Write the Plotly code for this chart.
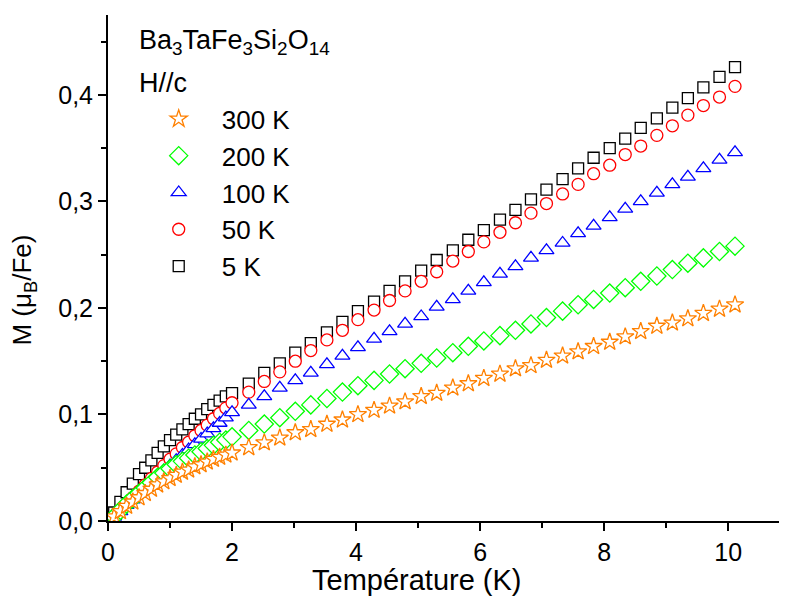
import plotly.graph_objects as go

# Field values (x axis)
x_vals = [0.1, 0.2, 0.3, 0.4, 0.5, 0.6, 0.7, 0.8, 0.9, 1.0,
          1.1, 1.2, 1.3, 1.4, 1.5, 1.6, 1.7, 1.8, 1.9, 2.0,
          2.27, 2.52, 2.77, 3.02, 3.27, 3.53, 3.78, 4.03, 4.29, 4.54,
          4.79, 5.05, 5.30, 5.56, 5.81, 6.06, 6.32, 6.57, 6.82, 7.07,
          7.33, 7.58, 7.83, 8.09, 8.34, 8.59, 8.85, 9.10, 9.35, 9.60,
          9.86, 10.11]

m_5K = [0.008, 0.018, 0.027, 0.035, 0.044, 0.050, 0.057, 0.064, 0.070, 0.076,
        0.081, 0.086, 0.091, 0.096, 0.100, 0.105, 0.109, 0.113, 0.117, 0.120,
        0.129, 0.139, 0.148, 0.158, 0.167, 0.177, 0.187, 0.197, 0.206, 0.216,
        0.225, 0.235, 0.245, 0.254, 0.264, 0.273, 0.283, 0.292, 0.302, 0.311,
        0.321, 0.331, 0.341, 0.350, 0.359, 0.369, 0.378, 0.388, 0.397, 0.407,
        0.417, 0.426]

m_50K = [0.004, 0.010, 0.016, 0.022, 0.028, 0.034, 0.040, 0.046, 0.052, 0.058,
         0.063, 0.069, 0.074, 0.080, 0.085, 0.090, 0.096, 0.101, 0.106, 0.111,
         0.121, 0.131, 0.140, 0.150, 0.160, 0.170, 0.179, 0.189, 0.198, 0.207,
         0.216, 0.225, 0.234, 0.244, 0.253, 0.262, 0.271, 0.280, 0.289, 0.298,
         0.307, 0.316, 0.326, 0.334, 0.344, 0.352, 0.362, 0.371, 0.381, 0.390,
         0.398, 0.408]

m_100K = [0.004, 0.009, 0.015, 0.020, 0.026, 0.031, 0.037, 0.042, 0.047, 0.052,
          0.057, 0.062, 0.067, 0.072, 0.077, 0.082, 0.087, 0.092, 0.097, 0.102,
          0.109, 0.117, 0.125, 0.132, 0.139, 0.147, 0.155, 0.163, 0.171, 0.178,
          0.185, 0.192, 0.201, 0.208, 0.216, 0.224, 0.232, 0.239, 0.247, 0.254,
          0.261, 0.270, 0.277, 0.285, 0.293, 0.300, 0.308, 0.316, 0.323, 0.331,
          0.339, 0.346]

m_200K = [0.004, 0.010, 0.016, 0.021, 0.026, 0.031, 0.036, 0.041, 0.045, 0.049,
          0.053, 0.056, 0.059, 0.062, 0.065, 0.068, 0.071, 0.074, 0.076, 0.079,
          0.085, 0.091, 0.097, 0.103, 0.109, 0.115, 0.121, 0.127, 0.132, 0.138,
          0.143, 0.148, 0.153, 0.158, 0.164, 0.169, 0.174, 0.179, 0.185, 0.191,
          0.197, 0.203, 0.208, 0.214, 0.219, 0.225, 0.230, 0.236, 0.242, 0.247,
          0.253, 0.258]

m_300K = [0.004, 0.009, 0.014, 0.018, 0.022, 0.026, 0.030, 0.034, 0.037, 0.040,
          0.043, 0.046, 0.048, 0.051, 0.053, 0.0555, 0.058, 0.060, 0.062, 0.064,
          0.069, 0.0735, 0.078, 0.083, 0.086, 0.091, 0.095, 0.100, 0.104, 0.108,
          0.112, 0.117, 0.120, 0.125, 0.129, 0.134, 0.138, 0.143, 0.146, 0.151,
          0.155, 0.159, 0.164, 0.168, 0.173, 0.178, 0.183, 0.186, 0.190, 0.195,
          0.199, 0.203]

series = [
    ("5 K", m_5K, "square", "#000000", 11),
    ("50 K", m_50K, "circle", "#FF0000", 12),
    ("100 K", m_100K, "triangle-up", "#0000FF", 13),
    ("200 K", m_200K, "diamond", "#00FF00", 14),
    ("300 K", m_300K, "star", "#FF8000", 13),
]

FONT = "Arial, Liberation Sans, sans-serif"

fig = go.Figure()
for name, ys, sym, col, sz in series:
    fig.add_trace(go.Scatter(
        x=x_vals, y=ys, mode="markers", name=name, legendgroup=name,
        marker=dict(symbol=sym, size=sz, color="white",
                    line=dict(color=col, width=1.3)),
    ))

fig.update_layout(
    width=779, height=590,
    margin=dict(l=100, r=3, t=7, b=77),
    plot_bgcolor="white", paper_bgcolor="white",
    separators=", ",
    font=dict(family=FONT, size=25, color="black"),
    showlegend=True,
    legend=dict(x=0.041, y=0.841, xanchor="left", yanchor="top",
                traceorder="reversed", tracegroupgap=1,
                itemwidth=76,
                font=dict(family=FONT, size=26, color="black"),
                bgcolor="rgba(0,0,0,0)"),
    xaxis=dict(range=[0, 10.9], dtick=2, tick0=0, automargin=False,
               showline=True, linecolor="black", linewidth=2,
               ticks="outside", ticklen=8, tickwidth=1.5, tickcolor="black",
               minor=dict(dtick=1, ticks="outside", ticklen=5, tickwidth=1.5, tickcolor="black"),
               showgrid=False, zeroline=False,
               tickfont=dict(size=25)),
    yaxis=dict(range=[0, 0.475], dtick=0.1, tick0=0, tickformat=".1f", automargin=False,
               showline=True, linecolor="black", linewidth=2,
               ticks="outside", ticklen=8, tickwidth=1.5, tickcolor="black",
               minor=dict(dtick=0.05, ticks="outside", ticklen=5, tickwidth=1.5, tickcolor="black"),
               showgrid=False, zeroline=False,
               tickfont=dict(size=25)),
    annotations=[
        dict(text="Ba<sub>3</sub>TaFe<sub>3</sub>Si<sub>2</sub>O<sub>14</sub>",
             xref="paper", yref="paper", x=0.043, y=0.947, xanchor="left", yanchor="middle",
             showarrow=False, font=dict(family=FONT, size=27, color="black")),
        dict(text="H//c", xref="paper", yref="paper", x=0.043, y=0.866,
             xanchor="left", yanchor="middle",
             showarrow=False, font=dict(family=FONT, size=27, color="black")),
        dict(text="Température (K)", xref="paper", yref="paper", x=0.457, y=-0.1166,
             xanchor="center", yanchor="middle", showarrow=False,
             font=dict(family=FONT, size=29, color="black")),
        dict(text="M (μ<sub>B</sub>/Fe)", xref="paper", yref="paper", x=-0.125, y=0.4565,
             xanchor="center", yanchor="middle", textangle=-90, showarrow=False,
             font=dict(family=FONT, size=26, color="black")),
    ],
)

fig.write_html("out.html")
